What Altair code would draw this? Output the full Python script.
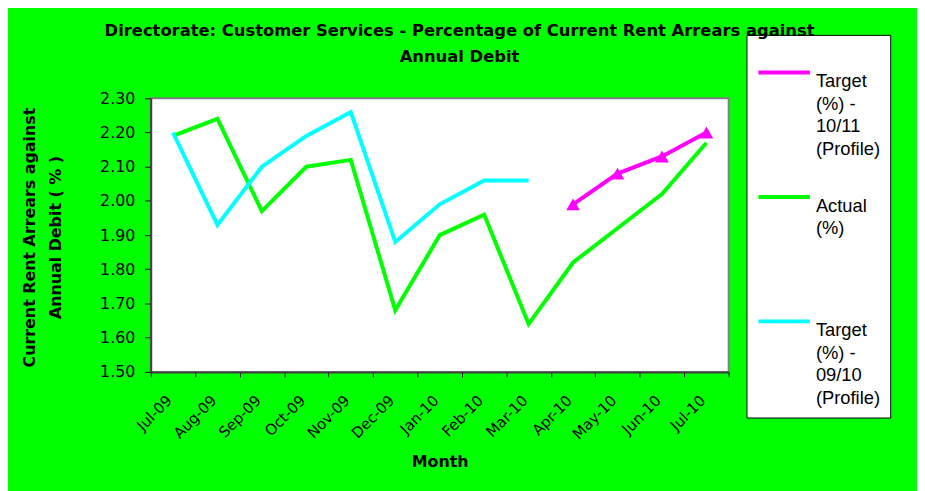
import altair as alt
import pandas as pd

months = ["Jul-09", "Aug-09", "Sep-09", "Oct-09", "Nov-09", "Dec-09", "Jan-10",
          "Feb-10", "Mar-10", "Apr-10", "May-10", "Jun-10", "Jul-10"]
actual = [2.19, 2.24, 1.97, 2.10, 2.12, 1.68, 1.90, 1.96, 1.64, 1.82, 1.92, 2.02, 2.17]
target_0910_months = ["Jul-09", "Aug-09", "Sep-09", "Oct-09", "Nov-09", "Dec-09",
                      "Jan-10", "Feb-10", "Mar-10"]
target_0910 = [2.20, 1.93, 2.10, 2.19, 2.26, 1.88, 1.99, 2.06, 2.06]
target_1011_months = ["Apr-10", "May-10", "Jun-10", "Jul-10"]
target_1011 = [1.99, 2.08, 2.13, 2.20]
y_ticks = [1.50, 1.60, 1.70, 1.80, 1.90, 2.00, 2.10, 2.20, 2.30]

S1 = "Target|(%) -|10/11|(Profile)"
S2 = "Actual|(%)| | "
S3 = "Target|(%) -|09/10|(Profile)"
series_order = [S1, S2, S3]
series_colors = ["#ff00ff", "#00ff00", "#00ffff"]

rows = []
for m, v in zip(target_1011_months, target_1011):
    rows.append({"month": m, "value": v, "series": S1})
for m, v in zip(months, actual):
    rows.append({"month": m, "value": v, "series": S2})
for m, v in zip(target_0910_months, target_0910):
    rows.append({"month": m, "value": v, "series": S3})
df = pd.DataFrame(rows)

FONT = "DejaVu Sans"

x_enc = alt.X(
    "month:N", sort=months, bandPosition=0.5,
    scale=alt.Scale(type="band", paddingInner=0, paddingOuter=0),
    axis=alt.Axis(
        tickBand="extent", labelAngle=-45, labelAlign="right", labelBaseline="top",
        labelPadding=16, labelOffset=-9, tickSize=5, tickColor="black",
        domainColor="#404040", domainWidth=2, labelFont=FONT, labelFontSize=15,
        labelColor="black", grid=False,
        title="Month", titleFont=FONT, titleFontSize=16, titleFontWeight="bold",
        titleColor="black", titleY=90, titleBaseline="middle",
    ),
)
y_enc = alt.Y(
    "value:Q",
    scale=alt.Scale(domain=[1.5, 2.3], nice=False, zero=False),
    axis=alt.Axis(
        values=y_ticks, format=".2f", grid=False, tickSize=6, tickColor="black",
        domainColor="#404040", domainWidth=2, labelFont=FONT, labelFontSize=16,
        labelColor="black", labelPadding=10,
        title=["Current Rent Arrears against", "Annual Debit  ( % )"],
        titleFont=FONT, titleFontSize=16, titleFontWeight="bold", titleColor="black",
        titleAngle=-90, titleX=-122, titleY=140, titleAlign="center",
        titleBaseline="middle", titleLineHeight=26,
    ),
)
color_scale = alt.Scale(domain=series_order, range=series_colors)

legend = alt.Legend(
    orient="none", legendX=601, legendY=-64,
    labelFont="Liberation Sans", labelFontSize=18.5, labelColor="black",
    labelBaseline="top", labelOffset=4, labelLimit=300,
    symbolType="stroke", symbolSize=2704, symbolStrokeWidth=4,
    fillColor="white", strokeColor="black", padding=10, rowPadding=10.5,
)

base = alt.Chart(df)
lines = base.mark_line(strokeWidth=4).encode(
    x=x_enc, y=y_enc,
    color=alt.Color("series:N", scale=color_scale, legend=legend, title=""),
)
tri = base.transform_filter(alt.datum.series == S1).mark_point(
    shape="triangle-up", filled=True, size=190, opacity=1
).encode(
    x=x_enc, y=y_enc,
    color=alt.Color("series:N", scale=color_scale, legend=None),
)

chart = alt.layer(lines, tri).properties(
    width=583, height=276,
    padding={"left": 144, "top": 89, "right": 190, "bottom": 118},
    autosize=alt.AutoSizeParams(type="none"),
    background="#00ff00",
    title=alt.TitleParams(
        text=["Directorate: Customer Services - Percentage of Current Rent Arrears against",
              "Annual Debit"],
        font=FONT, fontSize=16.5, fontWeight="bold", color="black",
        anchor="middle", frame="group", dx=20, offset=-47, baseline="bottom",
        lineHeight=26,
    ),
).configure(
    view=alt.ViewConfig(stroke="#808080", strokeWidth=2, fill="white"),
    style={"guide-label": {"lineHeight": 22.7, "lineBreak": "|"}},
)

chart.save("out.html", embed_options={"renderer": "svg", "actions": False})
